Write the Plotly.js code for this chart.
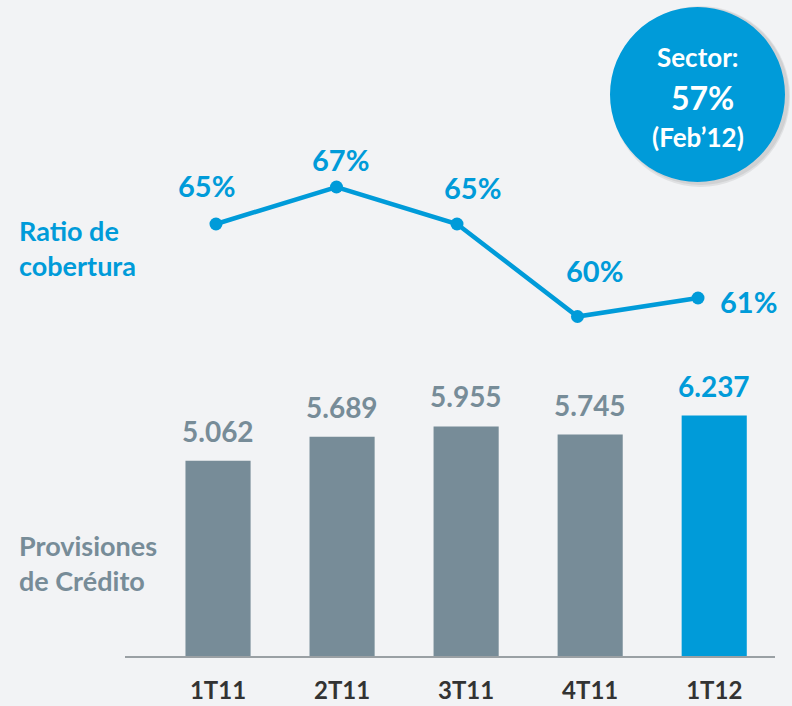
<!DOCTYPE html>
<html>
<head>
<meta charset="utf-8">
<script src="https://cdn.plot.ly/plotly-3.0.1.min.js"></script>
<style>html,body{margin:0;padding:0;background:#f2f3f5;}#chart{width:792px;height:706px;}</style>
</head>
<body>
<div id="chart"></div>
<script>
// ---- data ----
const categories = ["1T11", "2T11", "3T11", "4T11", "1T12"];
const provisiones = [5.062, 5.689, 5.955, 5.745, 6.237];
const provisionesLabels = ["5.062", "5.689", "5.955", "5.745", "6.237"];
const ratio = [65, 67, 65, 60, 61];
const ratioLabels = ["65%", "67%", "65%", "60%", "61%"];

// ---- style ----
const BLUE = "#009bd9";
const GRAY = "#778c98";
const FONT = "Lato, 'Open Sans', sans-serif";
const W = 792, H = 706;
const px = x => x / W, py = y => 1 - y / H;

const barColors = categories.map((c, i) => i === categories.length - 1 ? BLUE : GRAY);
const ratioOffsets = [[-9, 38], [4, 27], [16, 36], [17, 46], [50, -3]];

const idx = categories.map((c, i) => i);

const traces = [
  {
    type: "bar", x: idx, y: provisiones, xaxis: "x", yaxis: "y",
    marker: {color: barColors}, width: 0.525, hoverinfo: "skip"
  },
  {
    type: "scatter", mode: "lines+markers", x: idx, y: ratio, xaxis: "x2", yaxis: "y2",
    line: {color: BLUE, width: 4.5}, marker: {color: BLUE, size: 13}, hoverinfo: "skip"
  }
];

const annotations = [];
provisiones.forEach((v, i) => {
  annotations.push({
    xref: "x", yref: "y", x: i, y: v, text: provisionesLabels[i], showarrow: false,
    xanchor: "center", yanchor: "middle", yshift: 30,
    font: {family: FONT, size: 28, weight: "bold", color: barColors[i]}
  });
});
ratio.forEach((v, i) => {
  annotations.push({
    xref: "x2", yref: "y2", x: i, y: v, text: ratioLabels[i], showarrow: false,
    xshift: ratioOffsets[i][0], yshift: ratioOffsets[i][1], xanchor: "center", yanchor: "middle",
    font: {family: FONT, size: 29, weight: "bold", color: BLUE}
  });
});
// side labels
annotations.push({
  xref: "paper", yref: "paper", x: px(17), y: py(248), xanchor: "left", yanchor: "middle", align: "left",
  text: "Ratio de<br>cobertura", showarrow: false,
  font: {family: FONT, size: 27, weight: "bold", color: BLUE}
});
annotations.push({
  xref: "paper", yref: "paper", x: px(17), y: py(563), xanchor: "left", yanchor: "middle", align: "left",
  text: "Provisiones<br>de Crédito", showarrow: false,
  font: {family: FONT, size: 27, weight: "bold", color: GRAY}
});
// sector badge text
annotations.push({xref: "paper", yref: "paper", x: px(698), y: py(57), text: "Sector:", showarrow: false,
  xanchor: "center", yanchor: "middle", font: {family: FONT, size: 26, weight: "bold", color: "#ffffff"}});
annotations.push({xref: "paper", yref: "paper", x: px(702), y: py(97), text: "57%", showarrow: false,
  xanchor: "center", yanchor: "middle", font: {family: FONT, size: 32, weight: "bold", color: "#ffffff"}});
annotations.push({xref: "paper", yref: "paper", x: px(698), y: py(137), text: "(Feb’12)", showarrow: false,
  xanchor: "center", yanchor: "middle", font: {family: FONT, size: 26, weight: "bold", color: "#ffffff"}});

const shapes = [
  {type: "circle", xref: "paper", yref: "paper", layer: "below",
   x0: px(611), x1: px(790), y0: py(6), y1: py(187), fillcolor: "rgba(0,0,0,0.07)", line: {width: 0}},
  {type: "circle", xref: "paper", yref: "paper", layer: "below",
   x0: px(612), x1: px(789), y0: py(7), y1: py(185), fillcolor: "rgba(0,0,0,0.07)", line: {width: 0}},
  {type: "circle", xref: "paper", yref: "paper", layer: "below",
   x0: px(610), x1: px(785), y0: py(7), y1: py(182), fillcolor: BLUE, line: {width: 0}}
];

const layout = {
  width: W, height: H,
  margin: {l: 0, r: 0, t: 0, b: 0},
  paper_bgcolor: "#f2f3f5", plot_bgcolor: "rgba(0,0,0,0)",
  showlegend: false,
  xaxis: {
    domain: [px(125), px(775)], range: [-0.75, 4.49], anchor: "y",
    tickvals: idx, ticktext: categories, showgrid: false, zeroline: false,
    showline: true, linecolor: "#9aa0a4", linewidth: 2, ticks: "",
    ticklabelstandoff: 12,
    tickfont: {family: FONT, size: 24, weight: "bold", color: "#333333"}, fixedrange: true
  },
  yaxis: {
    domain: [py(656), py(380)], range: [0, 7.16], anchor: "x",
    visible: false, showgrid: false, zeroline: false
  },
  xaxis2: {
    domain: [px(125), px(775)], range: [-0.755, 4.639], anchor: "y2",
    visible: false, showgrid: false, zeroline: false
  },
  yaxis2: {
    domain: [py(350), py(120)], range: [58.19, 70.62], anchor: "x2",
    visible: false, showgrid: false, zeroline: false
  },
  annotations: annotations,
  shapes: shapes
};

Plotly.newPlot("chart", traces, layout, {displayModeBar: false, staticPlot: true});
</script>
</body>
</html>
